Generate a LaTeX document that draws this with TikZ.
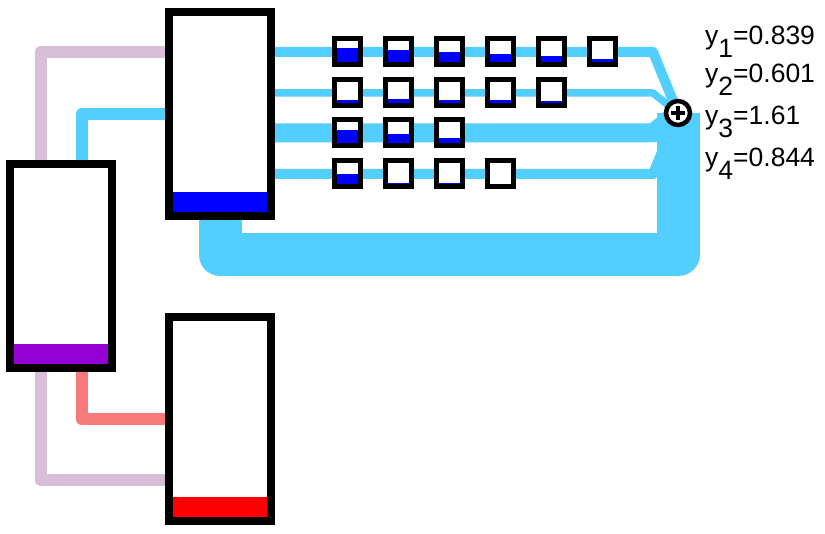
\documentclass[tikz,border=0pt]{standalone}
\usepackage{fontspec}
\setmainfont{Liberation Sans}
\usetikzlibrary{positioning,backgrounds}
\definecolor{ink}{HTML}{000000}
\definecolor{flow}{HTML}{52CEFF}
\definecolor{thistle}{HTML}{D8BFD8}
\definecolor{salmon}{HTML}{F77B7B}
\definecolor{levelblue}{HTML}{0000FF}
\definecolor{levelviolet}{HTML}{9400D3}
\definecolor{levelred}{HTML}{FF0000}
\tikzset{
  tank/.style={draw=ink, line width=8pt, fill=white, inner sep=0pt, outer sep=0pt, minimum width=102pt, minimum height=204pt,
    path picture={\fill[#1] (path picture bounding box.south west) rectangle ([yshift=24pt]path picture bounding box.south east);}},
  cellbox/.style={draw=ink, line width=5pt, fill=white, inner sep=0pt, outer sep=0pt, minimum size=26pt,
    path picture={\fill[levelblue] (path picture bounding box.south west) rectangle ([yshift=2.5pt+#1*21pt]path picture bounding box.south east);}},
  sumnode/.style={circle, draw=ink, line width=4.5pt, fill=white, minimum size=24pt, inner sep=0pt,
    path picture={\draw[ink, line width=3.5pt] ([xshift=-7pt]path picture bounding box.center) -- ([xshift=7pt]path picture bounding box.center)
      ([yshift=-7pt]path picture bounding box.center) -- ([yshift=7pt]path picture bounding box.center);}},
  pipe/.style={draw=#1, line width=12pt, line join=round},
  readout/.style={font=\fontsize{26.5}{30}\selectfont, text=ink, anchor=base west, inner sep=0pt}
}
\begin{document}
\begin{tikzpicture}[x=1pt, y=-1pt, node distance=25pt]
\useasboundingbox (0,0) rectangle (825,534);
% tanks
\node[tank=levelblue] (top) at (220,113.75) {};
\node[tank=levelviolet] (lft) at (60.75,266) {};
\node[tank=levelred] (bot) at (220.25,419.25) {};
% cells, one row per output
\node[cellbox=0.71] (a1) at (347.5,52) {};
\node[cellbox=0.59, right=of a1] (a2) {}; \node[cellbox=0.50, right=of a2] (a3) {};
\node[cellbox=0.41, right=of a3] (a4) {}; \node[cellbox=0.33, right=of a4] (a5) {};
\node[cellbox=0.19, right=of a5] (a6) {};
\node[cellbox=0.19] (b1) at (347.5,93) {};
\node[cellbox=0.20, right=of b1] (b2) {}; \node[cellbox=0.19, right=of b2] (b3) {};
\node[cellbox=0.18, right=of b3] (b4) {}; \node[cellbox=0.10, right=of b4] (b5) {};
\node[cellbox=0.63] (c1) at (347.5,133) {};
\node[cellbox=0.47, right=of c1] (c2) {}; \node[cellbox=0.28, right=of c2] (c3) {};
\node[cellbox=0.52] (d1) at (347.5,174) {};
\node[cellbox=0.08, right=of d1] (d2) {}; \node[cellbox=0.05, right=of d2] (d3) {};
\node[cellbox=0.04, right=of d3] (d4) {};
% sum and readouts
\node[sumnode] (sum) at (678,113) {};
\coordinate (turn) at (653,0);
\node[readout] (y1) at (705,45) {y\raisebox{-13pt}{1}=0.839};
\node[readout] (y2) at (705,83) {y\raisebox{-13pt}{2}=0.601};
\node[readout] (y3) at (705,125) {y\raisebox{-13pt}{3}=1.61};
\node[readout] (y4) at (705,167) {y\raisebox{-13pt}{4}=0.844};
\begin{scope}[on background layer]
\draw[pipe=flow, line width=43pt] (sum.center) |- ([yshift=-39pt]top.south) -- (top.south);
\draw[pipe=flow, line width=10pt] (top.east |- a1) -- (turn |- a1) -- (sum.center);
\draw[pipe=flow, line width=7.5pt] (top.east |- b1) -- (turn |- b1) -- (sum.center);
\draw[pipe=flow, line width=19pt] (top.east |- c1) -- (turn |- c1) -- (sum.center);
\draw[pipe=flow, line width=10pt] (top.east |- d1) -- (turn |- d1) -- (sum.center);
\draw[pipe=thistle] ([xshift=-20pt]lft.north) |- ([yshift=62pt]top.west);
\draw[pipe=flow] ([xshift=21pt]lft.north) |- (top.west);
\draw[pipe=salmon] ([xshift=21pt]lft.south) |- (bot.west);
\draw[pipe=thistle] ([xshift=-20pt]lft.south) |- ([yshift=-61pt]bot.west);
\end{scope}
\end{tikzpicture}
\end{document}
